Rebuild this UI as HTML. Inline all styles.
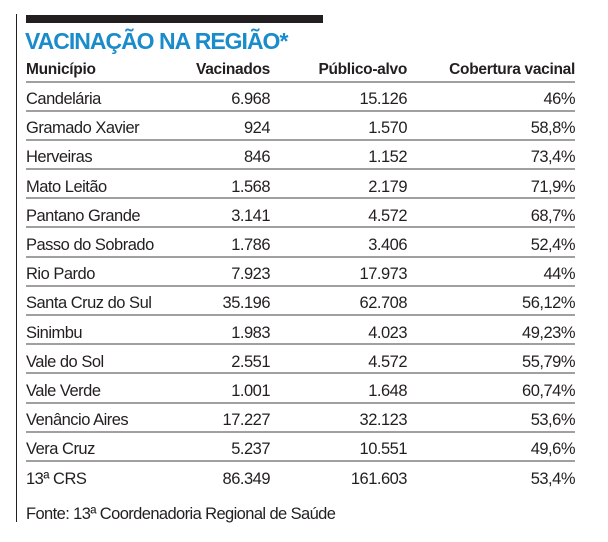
<!DOCTYPE html><html><head><meta charset="utf-8"><style>
body{margin:0;width:608px;height:542px;background:#fff;position:relative;overflow:hidden;font-family:"Liberation Sans",sans-serif;color:#231f20}
.a{position:absolute;white-space:nowrap}
.l{position:absolute;left:26px;width:549px;height:2px;background:#a0a0a0}
.r{position:absolute;left:26px;width:549px;height:29px;font-size:16.5px;line-height:29px;letter-spacing:-0.5px}
.r span{position:absolute;top:2px}
.c1{left:0}.c2{right:305px}.c3{right:168px}.c4{right:0}
.h{font-weight:bold;font-size:15.5px;letter-spacing:-0.3px}
.h span{top:0}
</style></head><body>
<div class="a" style="left:16px;top:14px;width:1px;height:508px;background:#231f20"></div>
<div class="a" style="left:26px;top:15px;width:297px;height:8px;background:#231f20"></div>
<div class="a" style="left:25px;top:27px;font-size:23px;font-weight:bold;color:#1a8bcb;letter-spacing:-1px;line-height:28px">VACINAÇÃO NA REGIÃO*</div>
<div class="r h" style="top:55px"><span class="c1">Município</span><span class="c2">Vacinados</span><span class="c3">Público-alvo</span><span class="c4">Cobertura vacinal</span></div>
<div class="l" style="top:81px"></div>
<div id="t"></div>
<div class="a" style="left:26px;top:502px;font-size:16.5px;letter-spacing:-0.6px;line-height:24px">Fonte: 13ª Coordenadoria Regional de Saúde</div>
<script>
var d=[["Candelária","6.968","15.126","46%"],["Gramado Xavier","924","1.570","58,8%"],["Herveiras","846","1.152","73,4%"],["Mato Leitão","1.568","2.179","71,9%"],["Pantano Grande","3.141","4.572","68,7%"],["Passo do Sobrado","1.786","3.406","52,4%"],["Rio Pardo","7.923","17.973","44%"],["Santa Cruz do Sul","35.196","62.708","56,12%"],["Sinimbu","1.983","4.023","49,23%"],["Vale do Sol","2.551","4.572","55,79%"],["Vale Verde","1.001","1.648","60,74%"],["Venâncio Aires","17.227","32.123","53,6%"],["Vera Cruz","5.237","10.551","49,6%"],["13ª CRS","86.349","161.603","53,4%"]];
var h="";d.forEach(function(r,i){var y=83+i*29.2;h+='<div class="r" style="top:'+y+'px"><span class="c1">'+r[0]+'</span><span class="c2">'+r[1]+'</span><span class="c3">'+r[2]+'</span><span class="c4">'+r[3]+'</span></div>';if(i<13)h+='<div class="l" style="top:'+(y+26.5)+'px"></div>';});
document.getElementById("t").innerHTML=h;
</script>
</body></html>
